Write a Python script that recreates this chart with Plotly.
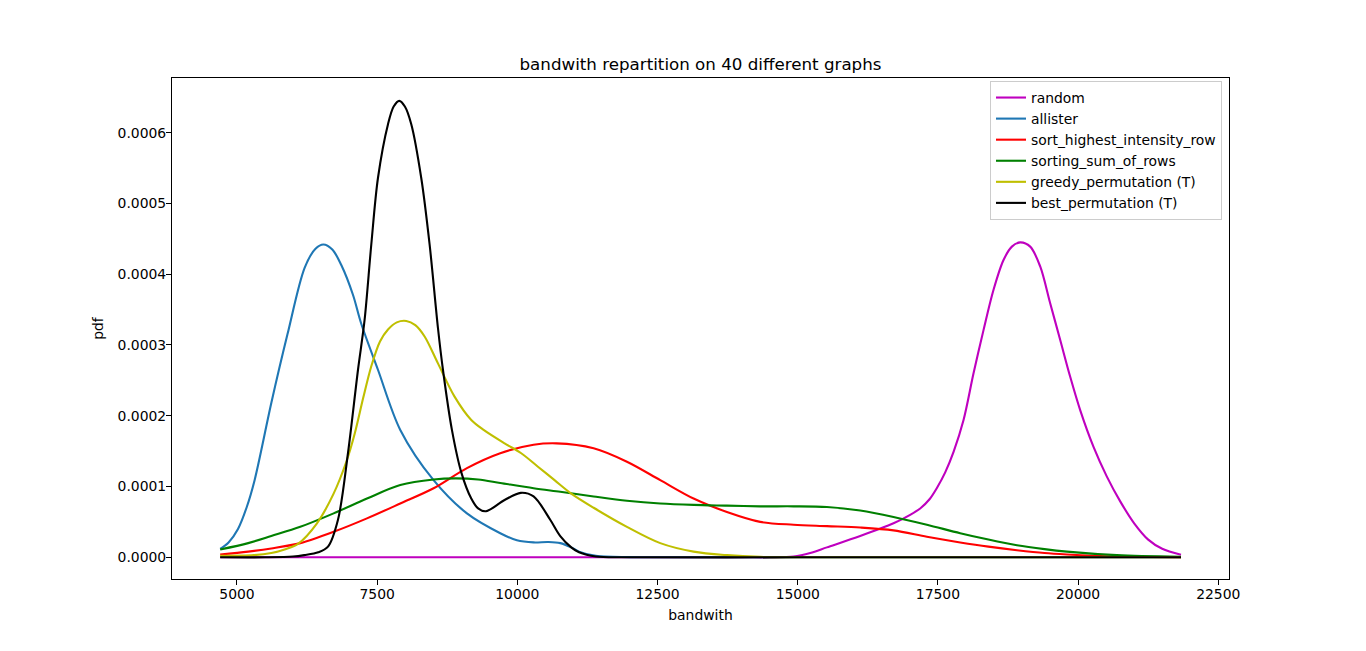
import plotly.graph_objects as go

# ---- data ----
series_names = ["random", "allister", "sort_highest_intensity_row",
                "sorting_sum_of_rows", "greedy_permutation (T)", "best_permutation (T)"]

random_x = [4700, 8000, 11000, 14000, 14500, 14925, 15223, 15520, 16114, 16708, 17005, 17184,
            17350, 17482, 17630, 17779, 17957, 18135, 18313, 18492, 18670, 18819, 18967,
            19146, 19324, 19502, 19681, 19859, 20037, 20275, 20513, 20751, 21000, 21250,
            21500, 21835]
random_y = [0, 0, 0, 0, 0.0, 0.1e-5, 0.6e-5, 1.4e-5, 3.0e-5, 4.8e-5, 6.0e-5, 6.9e-5,
            8.2e-5, 9.8e-5, 12.0e-5, 14.9e-5, 19.4e-5, 26.0e-5, 32.1e-5, 37.8e-5, 42.0e-5,
            43.9e-5, 44.5e-5, 43.9e-5, 41.1e-5, 35.9e-5, 30.7e-5, 25.5e-5, 20.8e-5,
            15.6e-5, 11.4e-5, 7.9e-5, 4.8e-5, 2.5e-5, 1.2e-5, 0.35e-5]

allister_x = [4700, 4850, 5018, 5170, 5314, 5612, 5900, 6206, 6400, 6540, 6700, 6860, 7068,
              7216, 7514, 7912, 8506, 9101, 9695, 9992, 10289, 10550, 10765, 10961, 11100,
              11400, 12000, 13000, 16000, 19000, 21835]
allister_y = [1.2e-5, 2.1e-5, 4.0e-5, 7.0e-5, 10.9e-5, 21.8e-5, 31.5e-5, 40.9e-5, 43.6e-5,
              44.2e-5, 43.5e-5, 41.3e-5, 37.1e-5, 33.0e-5, 26.5e-5, 18.0e-5, 10.9e-5, 6.2e-5,
              3.4e-5, 2.4e-5, 2.1e-5, 2.15e-5, 2.0e-5, 1.4e-5, 0.8e-5, 0.2e-5, 0.02e-5, 0, 0,
              0, 0]

sort_x = [4700, 5200, 5612, 6129, 6723, 7318, 7912, 8506, 9101, 9695, 10289, 10700, 11360,
          11954, 12548, 13142, 13737, 14331, 14925, 15520, 16114, 16708, 17303, 17897,
          18400, 18909, 19400, 19800, 20692, 21835]
sort_y = [0.4e-5, 0.8e-5, 1.25e-5, 2.0e-5, 3.6e-5, 5.5e-5, 7.6e-5, 9.75e-5, 12.6e-5, 14.7e-5,
          15.9e-5, 16.1e-5, 15.4e-5, 13.5e-5, 10.9e-5, 8.3e-5, 6.4e-5, 5.0e-5, 4.6e-5,
          4.4e-5, 4.2e-5, 3.8e-5, 2.9e-5, 2.1e-5, 1.5e-5, 1.0e-5, 0.6e-5, 0.4e-5, 0.1e-5,
          0.02e-5]

sumrows_x = [4700, 5200, 5612, 6129, 6723, 7318, 7912, 8506, 8900, 9300, 9695, 10289, 10765,
             11360, 11954, 12548, 13142, 13737, 14331, 14925, 15520, 16114, 16708, 17303,
             17897, 18400, 18909, 19400, 19800, 20692, 21835]
sumrows_y = [1.1e-5, 2.0e-5, 3.0e-5, 4.3e-5, 6.2e-5, 8.3e-5, 10.2e-5, 11.0e-5, 11.15e-5,
             11.0e-5, 10.5e-5, 9.75e-5, 9.25e-5, 8.6e-5, 8.0e-5, 7.6e-5, 7.4e-5, 7.3e-5,
             7.2e-5, 7.2e-5, 7.1e-5, 6.6e-5, 5.7e-5, 4.6e-5, 3.4e-5, 2.5e-5, 1.7e-5, 1.15e-5,
             0.8e-5, 0.3e-5, 0.05e-5]

greedy_x = [4700, 5300, 5612, 5850, 6088, 6426, 6723, 6950, 7100, 7250, 7395, 7550, 7693,
            7850, 8019, 8180, 8346, 8584, 8880, 9178, 9398, 9772, 10069, 10367, 10663, 10961,
            11360, 11954, 12548, 13142, 13737, 14331, 15000, 18000, 21835]
greedy_y = [0.2e-5, 0.3e-5, 0.6e-5, 1.1e-5, 1.9e-5, 4.8e-5, 9.0e-5, 13.5e-5, 17.5e-5,
            22.5e-5, 27.0e-5, 30.5e-5, 32.2e-5, 33.2e-5, 33.4e-5, 32.8e-5, 31.2e-5, 27.4e-5,
            22.7e-5, 19.4e-5, 18.0e-5, 16.1e-5, 14.7e-5, 12.8e-5, 10.9e-5, 9.0e-5, 7.0e-5,
            4.3e-5, 2.0e-5, 0.8e-5, 0.3e-5, 0.05e-5, 0, 0, 0]

best_x = [4700, 5500, 6000, 6200, 6450, 6623, 6801, 6979, 7158, 7275, 7395, 7514, 7693, 7794,
          7894, 7994, 8108, 8286, 8435, 8584, 8673, 8833, 9000, 9178, 9300, 9440, 9772, 10060,
          10289, 10586, 10765, 10961, 11100, 11400, 12000, 15000, 18000, 21835]
best_y = [0, 0, 0.1e-5, 0.3e-5, 0.7e-5, 1.5e-5, 5.3e-5, 14.7e-5, 26.5e-5, 33.5e-5, 44.2e-5,
          53.6e-5, 61.2e-5, 63.7e-5, 64.5e-5, 63.7e-5, 61.2e-5, 53.6e-5, 44.2e-5, 32.4e-5,
          26.5e-5, 18.0e-5, 12.0e-5, 8.3e-5, 6.9e-5, 6.5e-5, 8.1e-5, 9.1e-5, 8.6e-5, 5.3e-5,
          3.0e-5, 1.4e-5, 0.7e-5, 0.1e-5, 0, 0, 0, 0]

series_x = [random_x, allister_x, sort_x, sumrows_x, greedy_x, best_x]
series_y = [random_y, allister_y, sort_y, sumrows_y, greedy_y, best_y]
series_colors = ["#bf00bf", "#1f77b4", "#ff0000", "#008000", "#bfbf00", "#000000"]

x_ticks = [5000, 7500, 10000, 12500, 15000, 17500, 20000, 22500]
y_ticks = [0.0, 0.0001, 0.0002, 0.0003, 0.0004, 0.0005, 0.0006]
y_tick_labels = ["0.0000", "0.0001", "0.0002", "0.0003", "0.0004", "0.0005", "0.0006"]

FONT = "DejaVu Sans"

# page body has an 8px margin, so the figure is drawn at (8, 8)
W, H = 1350, 635
ML, MT = 164, 70
PW, PH = 1057, 501

fig = go.Figure()
for i, (name, xs, ys, col) in enumerate(zip(series_names, series_x, series_y, series_colors)):
    fig.add_trace(go.Scatter(
        x=xs, y=ys, mode="lines", name=name,
        line=dict(color=col, width=2.1, shape="spline", smoothing=0.9),
        legendgroup="g%d" % i,
    ))

axis_common = dict(
    showline=True, linecolor="black", linewidth=1.1, mirror=True,
    ticks="outside", ticklen=5, tickwidth=1.1, tickcolor="black",
    showgrid=False, zeroline=False, ticklabelstandoff=-3,
    tickfont=dict(family=FONT, size=13.9, color="black"),
)

fig.update_layout(
    width=W, height=H,
    margin=dict(l=ML, r=W - ML - PW, t=MT, b=H - MT - PH),
    paper_bgcolor="white", plot_bgcolor="white",
    font=dict(family=FONT, size=13.9, color="black"),
    title=dict(text="bandwith repartition on 40 different graphs",
               x=(ML + PW / 2) / W, xanchor="center",
               y=1 - 56 / H, yanchor="middle", yref="container",
               font=dict(family=FONT, size=16.7, color="black")),
    xaxis=dict(range=[3841, 22691], tickvals=x_ticks,
               ticktext=[str(v) for v in x_ticks],
               title=dict(text="bandwith", standoff=9,
                          font=dict(family=FONT, size=13.9, color="black")),
               **axis_common),
    yaxis=dict(range=[-3.07e-5, 6.773e-4], tickvals=y_ticks, ticktext=y_tick_labels,
               title=dict(text="pdf", standoff=10,
                          font=dict(family=FONT, size=13.9, color="black")),
               **axis_common),
    showlegend=True,
    legend=dict(x=(1222 - 8 - ML) / PW, xanchor="right",
                y=1 - (81 - 8 - MT) / PH, yanchor="top",
                bgcolor="rgba(255,255,255,0.8)", bordercolor="#cccccc", borderwidth=1,
                font=dict(family=FONT, size=13.9, color="black"),
                itemwidth=30, tracegroupgap=3, traceorder="normal"),
)

fig.write_html("out.html")
